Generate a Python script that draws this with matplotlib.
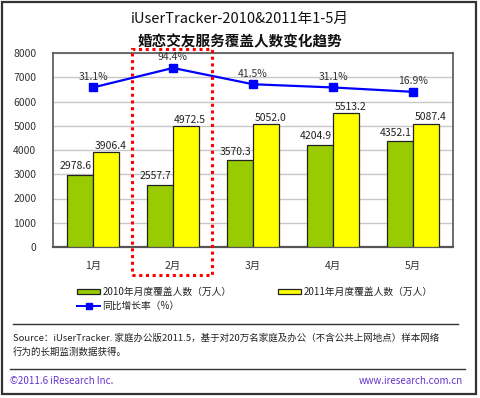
import matplotlib
matplotlib.use("Agg")
import matplotlib.pyplot as plt
from matplotlib.patches import Rectangle, Patch
from matplotlib.lines import Line2D
import numpy as np

plt.rcParams['font.family'] = ['Noto Sans CJK SC', 'DejaVu Sans']

months = ['1月', '2月', '3月', '4月', '5月']
users_2010 = [2978.6, 2557.7, 3570.3, 4204.9, 4352.1]
users_2011 = [3906.4, 4972.5, 5052.0, 5513.2, 5087.4]
growth = [31.1, 94.4, 41.5, 31.1, 16.9]
legend_labels = ['2010年月度覆盖人数（万人）', '2011年月度覆盖人数（万人）', '同比增长率（%）']

W, H = 480, 398
fig = plt.figure(figsize=(W / 100, H / 100), dpi=100)

def fx(x):
    return x / W

def fy(y):
    return 1 - y / H

# outer frame
fig.add_artist(Rectangle((fx(2), fy(394)), fx(474), 392 / H, transform=fig.transFigure,
                         fill=False, edgecolor='#333333', linewidth=1.6))

# titles
fig.text(0.5, fy(19), 'iUserTracker-2010&2011年1-5月', ha='center', va='center', fontsize=10.5,
         color='#111111')
fig.text(0.5, fy(41), '婚恋交友服务覆盖人数变化趋势', ha='center', va='center', fontsize=10.5,
         fontweight='bold', color='#111111')

left, right, top, bottom = 53, 453, 53, 247
ax = fig.add_axes([fx(left), fy(bottom), (right - left) / W, (bottom - top) / H])
x = np.arange(len(months))
bw = 0.33
b1 = ax.bar(x - bw / 2, users_2010, bw, color='#99CC00', edgecolor='#222222', linewidth=0.9,
            zorder=3)
b2 = ax.bar(x + bw / 2, users_2011, bw, color='#FFFF00', edgecolor='#222222', linewidth=0.9,
            zorder=3)
for rect, v in zip(b1, users_2010):
    ax.text(rect.get_x() + rect.get_width() / 2 - 0.05, v + 150, f'{v:.1f}', ha='center', va='bottom',
            fontsize=7.5, color='#222222', zorder=5)
for rect, v in zip(b2, users_2011):
    ax.text(rect.get_x() + rect.get_width() / 2 + 0.05, v + 60, f'{v:.1f}', ha='center', va='bottom',
            fontsize=7.5, color='#222222', zorder=5)

ax.set_xlim(-0.5, len(months) - 0.5)
ax.set_ylim(0, 8000)
ax.set_yticks(np.arange(0, 8001, 1000))
ax.set_xticks(x)
ax.set_xticklabels(months, fontsize=7.5, color='#333333')
ax.tick_params(axis='y', labelsize=7.5, colors='#333333', length=0, pad=12)
ax.tick_params(axis='x', length=0, pad=10)
ax.grid(axis='y', color='#C8C8C8', linewidth=1.0, zorder=0)
for s in ax.spines.values():
    s.set_color('#555555')
    s.set_linewidth(1.2)
ax.spines['bottom'].set_linewidth(1.6)

ax2 = ax.twinx()
ax2.set_ylim(-487, 143)
ax2.plot(x, growth, color='#0000FF', linewidth=1.6, marker='s', markersize=6, zorder=6)
for xi, g in zip(x, growth):
    ax2.text(xi, g + 18, f'{g:.1f}%', ha='center', va='bottom', fontsize=7.5, color='#333333')
ax2.set_yticks([])
for s in ax2.spines.values():
    s.set_visible(False)

# red dotted highlight around February
fig.add_artist(Rectangle((fx(132), fy(275)), (212 - 132) / W, (275 - 49) / H,
                         transform=fig.transFigure, fill=False, edgecolor='#FF0000',
                         linewidth=2.2, linestyle=(0, (1, 1.2))))

# legend entries placed individually
handles = [Patch(facecolor='#99CC00', edgecolor='#222222', linewidth=0.9),
           Patch(facecolor='#FFFF00', edgecolor='#222222', linewidth=0.9),
           Line2D([], [], color='#0000FF', marker='s', markersize=5, linewidth=1.4)]
positions = [(77, 292), (278, 292), (77, 306)]
for h, lab, (px, py) in zip(handles, legend_labels, positions):
    fig.legend([h], [lab], loc='center left', bbox_to_anchor=(fx(px), fy(py)),
               frameon=False, fontsize=7, handlelength=2.4, handleheight=0.5, handletextpad=0.2,
               borderaxespad=0, borderpad=0, labelcolor='#222222')

# separators and source
fig.add_artist(Line2D([fx(13), fx(458)], [fy(324), fy(324)], color='#333333', linewidth=1.0))
fig.text(fx(13), fy(338),
         'Source：iUserTracker. 家庭办公版2011.5，基于对20万名家庭及办公（不含公共上网地点）样本网络',
         ha='left', va='center', fontsize=6.8, color='#222222')
fig.text(fx(13), fy(352), '行为的长期监测数据获得。', ha='left', va='center', fontsize=6.8,
         color='#222222')
fig.add_artist(Line2D([fx(10), fx(465)], [fy(369), fy(369)], color='#333333', linewidth=1.0))
fig.text(fx(10), fy(381), '©2011.6 iResearch Inc.', ha='left', va='center', fontsize=7,
         color='#6633CC')
fig.text(fx(463), fy(381), 'www.iresearch.com.cn', ha='right', va='center', fontsize=7,
         color='#6633CC')

fig.savefig('out.png', dpi=100)
